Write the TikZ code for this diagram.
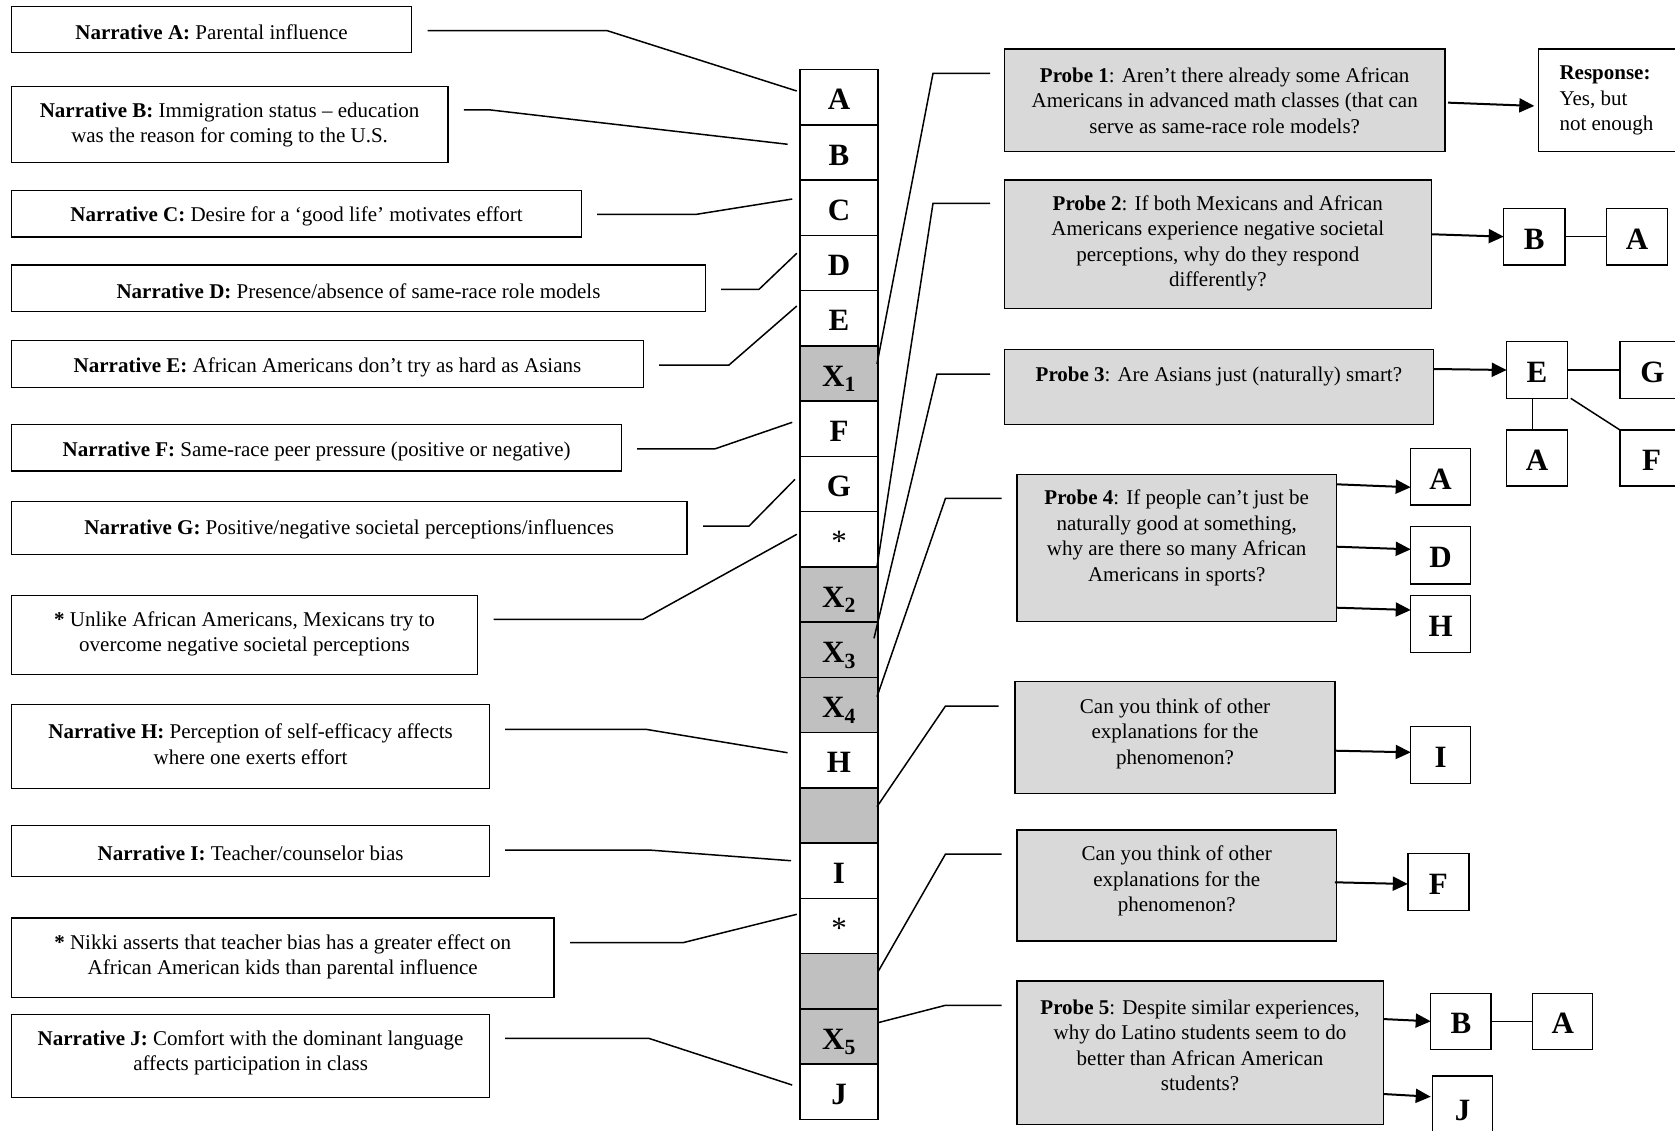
\documentclass[tikz,border=0pt]{standalone}
\usepackage{fontspec}
\setmainfont{Liberation Serif}
\usetikzlibrary{arrows.meta,calc}
\definecolor{cellgray}{HTML}{C0C0C0}
\definecolor{probegray}{HTML}{D9D9D9}
\begin{document}
\begin{tikzpicture}[x=1pt,y=-1pt,
  box/.style={draw, line width=1.5pt, inner sep=0pt, outer sep=0pt, anchor=north west},
  nbox/.style={box, fill=white},
  pbox/.style={box, fill=probegray},
  lbox/.style={box, fill=white, text height=25pt, text depth=0pt, font=\fontsize{31}{31}\selectfont\bfseries},
  cell/.style={draw, line width=1.5pt, inner sep=0pt, outer sep=0pt, minimum width=78pt, minimum height=55.25pt, text height=25pt, text depth=0pt, font=\fontsize{31}{31}\selectfont\bfseries},
  gcell/.style={cell, fill=cellgray},
  txt/.style={align=center, inner sep=0pt, yshift=-2pt, font=\fontsize{21}{25.5}\selectfont},
  conn/.style={line width=1.5pt},
  arr/.style={line width=2pt, -{Triangle[length=15pt,width=14pt]}}
]
\fill[white] (0,0) rectangle (1675,1131);
\useasboundingbox (0,0) rectangle (1675,1131);

% ---------- left narrative boxes ----------
\node[nbox, minimum width=400.1pt, minimum height=45.6pt] (nA) at (11.5,6.7) {};
\node[nbox, minimum width=436.3pt, minimum height=75.6pt] (nB) at (11.5,86.7) {};
\node[nbox, minimum width=570pt, minimum height=46.3pt] (nC) at (11.5,190.7) {};
\node[nbox, minimum width=694pt, minimum height=46.7pt] (nD) at (11.5,265) {};
\node[nbox, minimum width=632pt, minimum height=47pt] (nE) at (11.5,340.7) {};
\node[nbox, minimum width=610.2pt, minimum height=46.7pt] (nF) at (11.5,424.3) {};
\node[nbox, minimum width=675.5pt, minimum height=52.6pt] (nG) at (11.5,501.7) {};
\node[nbox, minimum width=466.1pt, minimum height=79pt] (nS1) at (11.5,595.3) {};
\node[nbox, minimum width=478.2pt, minimum height=84pt] (nH) at (11.5,704.3) {};
\node[nbox, minimum width=478.2pt, minimum height=50.6pt] (nI) at (11.5,825.7) {};
\node[nbox, minimum width=542.5pt, minimum height=79.3pt] (nS2) at (11.5,918) {};
\node[nbox, minimum width=478.2pt, minimum height=83pt] (nJ) at (11.5,1014.3) {};

\node[txt] (tA) at (211.5,30.5) {\textbf{Narrative A:} Parental influence};
\node[txt] (tB) at (229.6,123) {\textbf{Narrative B:} Immigration status – education\\was the reason for coming to the U.S.};
\node[txt] (tC) at (296.5,214.3) {\textbf{Narrative C:} Desire for a ‘good life’ motivates effort};
\node[txt] (tD) at (358.5,289.3) {\textbf{Narrative D:} Presence/absence of same-race role models};
\node[txt] (tE) at (327.5,365) {\textbf{Narrative E:} African Americans don’t try as hard as Asians};
\node[txt] (tF) at (316.6,449) {\textbf{Narrative F:} Same-race peer pressure (positive or negative)};
\node[txt] (tG) at (349.2,527.7) {\textbf{Narrative G:} Positive/negative societal perceptions/influences};
\node[txt] (tS1) at (244.5,632) {\textbf{*} Unlike African Americans, Mexicans try to\\overcome negative societal perceptions};
\node[txt] (tH) at (250.6,742) {\textbf{Narrative H:} Perception of self-efficacy affects\\where one exerts effort};
\node[txt] (tI) at (250.6,851.7) {\textbf{Narrative I:} Teacher/counselor bias};
\node[txt] (tS2) at (282.7,955) {\textbf{*} Nikki asserts that teacher bias has a greater effect on\\African American kids than parental influence};
\node[txt] (tJ) at (250.6,1051) {\textbf{Narrative J:} Comfort with the dominant language\\affects participation in class};

% ---------- central column ----------
\node[cell]  (cA)  at (839,97.33)   {A};
\node[cell]  (cB)  at (839,152.58)  {B};
\node[cell]  (cC)  at (839,207.83)  {C};
\node[cell]  (cD)  at (839,263.08)  {D};
\node[cell]  (cE)  at (839,318.33)  {E};
\node[gcell] (cX1) at (839,373.58)  {X\textsubscript{1}};
\node[cell]  (cF)  at (839,428.83)  {F};
\node[cell]  (cG)  at (839,484.08)  {G};
\node[cell]  (cS1) at (839,539.33)  {\normalfont *};
\node[gcell] (cX2) at (839,594.58)  {X\textsubscript{2}};
\node[gcell] (cX3) at (839,649.83)  {X\textsubscript{3}};
\node[gcell] (cX4) at (839,705.08)  {X\textsubscript{4}};
\node[cell]  (cH)  at (839,760.33)  {H};
\node[gcell] (cN1) at (839,815.58)  {};
\node[cell]  (cI)  at (839,870.83)  {I};
\node[cell]  (cS2) at (839,926.08)  {\normalfont *};
\node[gcell] (cN2) at (839,981.33)  {};
\node[gcell] (cX5) at (839,1036.58) {X\textsubscript{5}};
\node[cell]  (cJ)  at (839,1091.83) {J};

% ---------- left connectors ----------
\draw[conn] ($(nA.east)+(16.1,1.2)$) -- ++(179.6,0) -- ($(cA.west)+(-3.2,-6.3)$);
\draw[conn] ($(nB.east)+(16,-14.5)$) -- ++(27,0) -- ($(cB.west)+(-12.4,-8.3)$);
\draw[conn] ($(nC.east)+(15.5,0.5)$) -- ++(99.3,0) -- ($(cC.west)+(-7.8,-8.8)$);
\draw[conn] ($(nD.east)+(15.5,1)$) -- ++(38,0) -- ($(cD.west)+(-3.2,-9.8)$);
\draw[conn] ($(nE.east)+(15.5,0.8)$) -- ++(70,0) -- ($(cE.west)+(-3.2,-12.3)$);
\draw[conn] ($(nF.east)+(15.5,1.3)$) -- ++(77.5,0) -- ($(cF.west)+(-7.8,-6.5)$);
\draw[conn] ($(nG.east)+(16.2,-2)$) -- ++(45.9,0) -- ($(cG.west)+(-5,-4.8)$);
\draw[conn] ($(nS1.east)+(16.1,-15.5)$) -- ++(149.3,0) -- ($(cS1.west)+(-3.2,-5)$);
\draw[conn] ($(nH.east)+(15.5,-17)$) -- ++(140.6,0) -- ($(cH.west)+(-12.4,-7.6)$);
\draw[conn] ($(nI.east)+(15.5,-1)$) -- ++(143.5,0) -- ($(cI.west)+(-9,-10.1)$);
\draw[conn] ($(nS2.east)+(16,-15)$) -- ++(113.1,0) -- ($(cS2.west)+(-3.2,-11.8)$);
\draw[conn] ($(nJ.east)+(15.5,-17.5)$) -- ++(143.5,0) -- ($(cJ.west)+(-7.8,-6.8)$);

% ---------- right probe boxes ----------
\node[pbox, minimum width=440.7pt, minimum height=102.7pt] (p1) at (1004.3,49) {};
\node[nbox, minimum width=150pt, minimum height=102.7pt] (resp) at (1538.3,49) {};
\node[pbox, minimum width=427pt, minimum height=128.3pt] (p2) at (1004.3,180) {};
\node[pbox, minimum width=429.2pt, minimum height=75pt] (p3) at (1004.3,349.3) {};
\node[pbox, minimum width=319.6pt, minimum height=147.4pt] (p4) at (1016.9,474.3) {};
\node[pbox, minimum width=319.6pt, minimum height=111.6pt] (q1) at (1015.2,681.7) {};
\node[pbox, minimum width=319.6pt, minimum height=111pt] (q2) at (1016.9,830) {};
\node[pbox, minimum width=366.4pt, minimum height=143.3pt] (p5) at (1016.9,981) {};

\node[txt] (tp1) at (1224.7,98.6) {\textbf{Probe 1}: Aren’t there already some African\\Americans in advanced math classes (that can\\serve as same-race role models?};
\node[txt, align=left, anchor=west] (tresp) at (1559.3,98.6) {\textbf{Response:}\\Yes, but\\not enough};
\node[txt] (tp2) at (1217.8,241.3) {\textbf{Probe 2}: If both Mexicans and African\\Americans experience negative societal\\perceptions, why do they respond\\differently?};
\node[txt] (tp3) at (1218.9,374) {\textbf{Probe 3}: Are Asians just (naturally) smart?};
\node[txt] (tp4) at (1176.7,535.8) {\textbf{Probe 4}: If people can’t just be\\naturally good at something,\\why are there so many African\\Americans in sports?};
\node[txt] (tq1) at (1175,731.5) {Can you think of other\\explanations for the\\phenomenon?};
\node[txt] (tq2) at (1176.7,879) {Can you think of other\\explanations for the\\phenomenon?};
\node[txt] (tp5) at (1200,1043.5) {\textbf{Probe 5}: Despite similar experiences,\\why do Latino students seem to do\\better than African American\\students?};

% ---------- small letter boxes ----------
\node[lbox, minimum width=61.1pt, minimum height=56.7pt] (B2) at (1503.7,208.3) {B};
\node[lbox, minimum width=61pt, minimum height=56.7pt] (A2) at (1606.5,208.3) {A};
\node[lbox, minimum width=60.6pt, minimum height=56.6pt] (E3) at (1506.7,341.7) {E};
\node[lbox, minimum width=65pt, minimum height=56.6pt] (G3) at (1620,341.7) {G};
\node[lbox, minimum width=60.6pt, minimum height=56pt] (A3) at (1506.7,430) {A};
\node[lbox, minimum width=63pt, minimum height=56pt] (F3) at (1620,430) {F};
\node[lbox, minimum width=59.9pt, minimum height=56.7pt] (A4) at (1410.7,448.3) {A};
\node[lbox, minimum width=59.9pt, minimum height=57.3pt] (D4) at (1410.7,526.7) {D};
\node[lbox, minimum width=59.9pt, minimum height=57pt] (H4) at (1410.7,595.7) {H};
\node[lbox, minimum width=59.9pt, minimum height=56.6pt] (I6) at (1410.7,726.7) {I};
\node[lbox, minimum width=61.1pt, minimum height=57.4pt] (F7) at (1407.8,853.3) {F};
\node[lbox, minimum width=60.3pt, minimum height=56pt] (B5) at (1430.7,993.3) {B};
\node[lbox, minimum width=60pt, minimum height=56pt] (A5) at (1532.7,993.3) {A};
\node[lbox, minimum width=60pt, minimum height=64pt] (J5) at (1432.7,1076) {J};

% ---------- right connectors (column to probes) ----------
\draw[conn] ($(p1.west)+(-14.3,-27)$) -- ++(-57,0) -- ($(cX1.east)+(-1,-9.6)$);
\draw[conn] ($(p2.west)+(-14.3,-40.85)$) -- ++(-57,0) -- ($(cX2.east)+(-1,-27.9)$);
\draw[conn] ($(p3.west)+(-14.3,-12.8)$) -- ++(-53,0) -- ($(cX3.east)+(-4,-11.5)$);
\draw[conn] ($(p4.west)+(-15.4,-49.7)$) -- ++(-56,0) -- ($(cX4.east)+(-1,-8.4)$);
\draw[conn] ($(q1.west)+(-16.6,-31.5)$) -- ++(-53.1,0) -- ($(cN1.east)+(-1,-8.9)$);
\draw[conn] ($(q2.west)+(-15.4,-31.5)$) -- ++(-56,0) -- ($(cN2.east)+(0,-9.6)$);
\draw[conn] ($(p5.west)+(-15.4,-47.35)$) -- ++(-56,0) -- ($(cX5.east)+(0,-13.9)$);

% ---------- arrows and links ----------
\draw[arr] ($(p1.east)+(3,2.3)$) -- ($(resp.west)+(-4,5.6)$);
\draw[arr] ($(p2.east)+(0,-9.9)$) -- (B2.west);
\draw[conn] (B2.east) -- (A2.west);
\draw[arr] ($(p3.east)+(0,-17.8)$) -- (E3.west);
\draw[conn] (E3.east) -- (G3.west);
\draw[conn] ($(E3.south)+(-4.3,0)$) -- ($(A3.north)+(-4.3,0)$);
\draw[conn] ($(E3.south east)+(3.4,0)$) -- (F3.north west);
\draw[arr] ($(p4.north east)+(0,10)$) -- ($(A4.west)+(0,10.6)$);
\draw[arr] ($(p4.east)+(0,-1.3)$) -- ($(D4.west)+(0,-6)$);
\draw[arr] ($(p4.south east)+(0,-14)$) -- ($(H4.west)+(0,-14.2)$);
\draw[arr] ($(q1.east)+(0,13.2)$) -- ($(I6.west)+(0,-2.7)$);
\draw[arr] ($(q2.east)+(-1.7,-3.2)$) -- ($(F7.west)+(0,2)$);
\draw[arr] ($(p5.east)+(0,-33.6)$) -- (B5.west);
\draw[conn] (B5.east) -- (A5.west);
\draw[arr] ($(p5.south east)+(0,-30.3)$) -- ($(J5.west)+(-2,-11.3)$);
\end{tikzpicture}
\end{document}
